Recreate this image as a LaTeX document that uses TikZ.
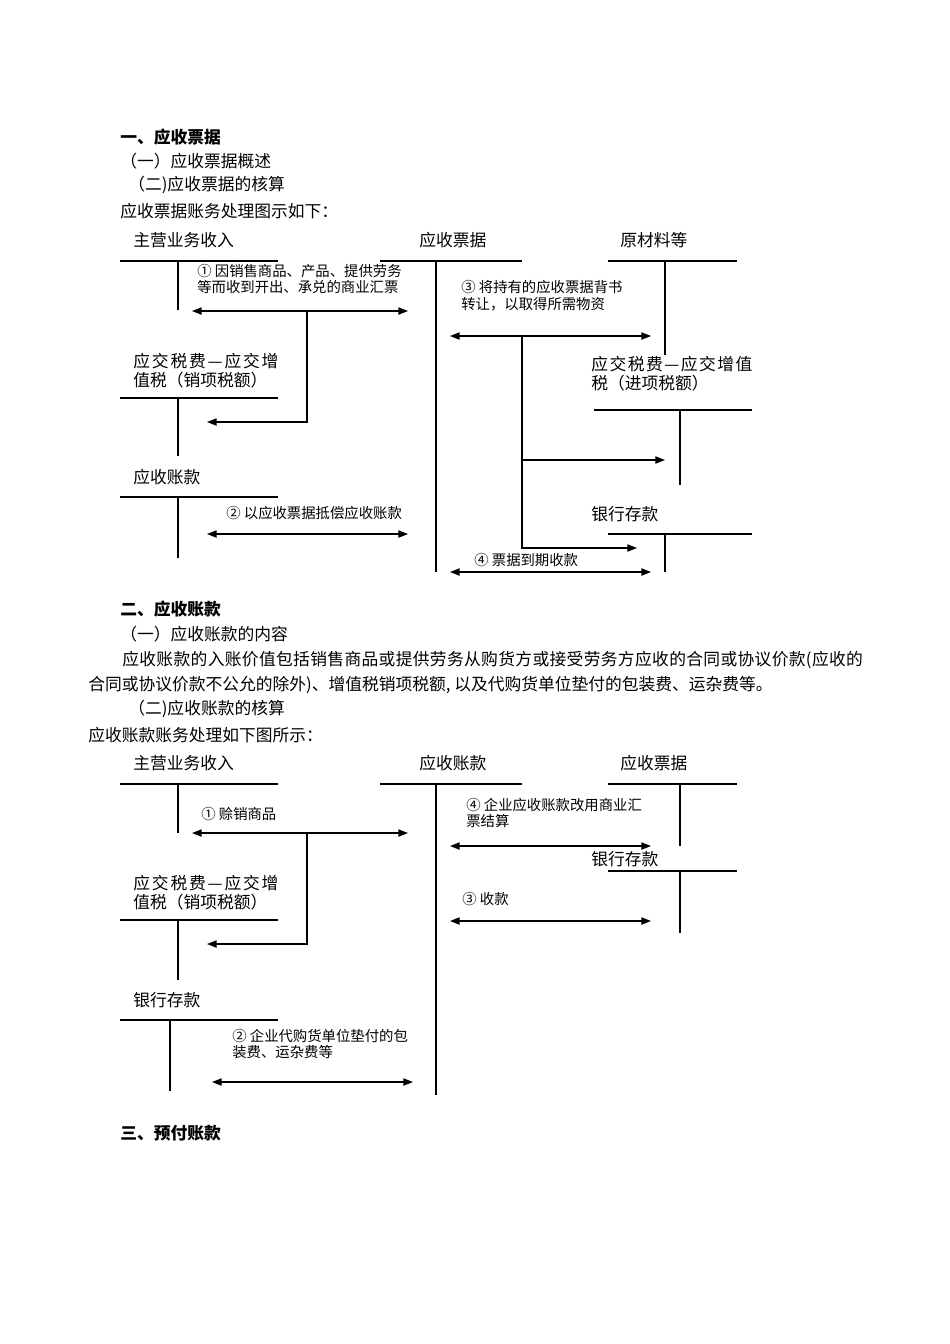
\documentclass[tikz,border=0pt]{standalone}
\usepackage{fontspec}
\setmainfont{Noto Sans CJK SC}
\usetikzlibrary{arrows.meta}
\begin{document}
\begin{tikzpicture}[x=0.6266pt,y=-0.6266pt,
    txt/.style={anchor=west,inner sep=0pt,font=\fontsize{10.5}{12}\selectfont,align=left},
    note/.style={anchor=west,inner sep=0pt,font=\fontsize{9}{10.5}\selectfont,align=left},
    head/.style={anchor=west,inner sep=0pt,font=\fontsize{10.5}{12}\selectfont\bfseries},
    acct/.style={line width=0.8pt},
    flow/.style={line width=0.8pt,{Triangle[length=6pt,width=4.5pt]}-{Triangle[length=6pt,width=4.5pt]}},
    oneway/.style={line width=0.8pt,-{Triangle[length=6pt,width=4.5pt]}}]
    \useasboundingbox (0,0) rectangle (950,1344);
    %% Section one
    \node[head] (h1) at (120,137) {一、应收票据};
    \node[txt] (h1a) at (120,161) {（一）应收票据概述};
    \node[txt] (h1b) at (128,185) {（二)应收票据的核算};
    \node[txt] (h1c) at (120,211) {应收票据账务处理图示如下：};
    %% Accounts
    \node[txt] (zyA) at (133,240) {主营业务收入};
    \draw[acct] (120,261) -- (278,261) (178,261) -- (178,310);
    \node[txt] (pjA) at (419,240) {应收票据};
    \draw[acct] (380,261) -- (522,261) (436,261) -- (436,572);
    \node[txt] (ylA) at (620,240) {原材料等};
    \draw[acct] (608,261) -- (737,261) (665,261) -- (665,355);
    \node[txt] (xxA) at (133,371) {{\addfontfeature{LetterSpace=11}应交税费—应交增}\\值税（销项税额）};
    \draw[acct] (120,398) -- (278,398) (178,398) -- (178,456);
    \node[txt] (zkA) at (133,477) {应收账款};
    \draw[acct] (120,497) -- (278,497) (178,497) -- (178,558);
    \node[txt] (jxA) at (591,374) {{\addfontfeature{LetterSpace=9}应交税费—应交增值}\\税（进项税额）};
    \draw[acct] (594,410) -- (752,410) (680,410) -- (680,485);
    \node[txt] (ckA) at (591,514) {银行存款};
    \draw[acct] (608,534) -- (752,534) (665,534) -- (665,572);
    %% Entries
    \coordinate (d1L) at (192,311);
    \coordinate (d1R) at (408,311);
    \coordinate (d1M) at (307,311);
    \coordinate (d1T) at (207,422);
    \node[note] (n1A) at (197,279) {① 因销售商品、产品、提供劳务\\等而收到开出、承兑的商业汇票};
    \draw[flow] (d1L) -- (d1R);
    \draw[oneway] (d1M) |- (d1T);
    \coordinate (d2L) at (207,534);
    \coordinate (d2R) at (408,534);
    \node[note] (n2A) at (226,513) {② 以应收票据抵偿应收账款};
    \draw[flow] (d2L) -- (d2R);
    \coordinate (d3L) at (450,336);
    \coordinate (d3R) at (651,336);
    \coordinate (d3M) at (522,336);
    \coordinate (d3A) at (665,460);
    \coordinate (d3B) at (637,548);
    \node[note] (n3A) at (461,296) {③ 将持有的应收票据背书\\转让，以取得所需物资};
    \draw[flow] (d3L) -- (d3R);
    \draw[oneway] (d3M) |- (d3B);
    \draw[oneway] (d3M |- d3A) -- (d3A);
    \coordinate (d4L) at (450,572);
    \coordinate (d4R) at (651,572);
    \node[note] (n4A) at (474,560) {④ 票据到期收款};
    \draw[flow] (d4L) -- (d4R);
    %% Section two
    \node[head] (h2) at (120,609) {二、应收账款};
    \node[txt] (h2a) at (120,634) {（一）应收账款的内容};
    \node[txt] (p1) at (122,660) {\addfontfeature{LetterSpace=2}应收账款的入账价值包括销售商品或提供劳务从购货方或接受劳务方应收的合同或协议价款(应收的};
    \node[txt] (p2) at (88,685) {合同或协议价款不公允的除外)、增值税销项税额, 以及代购货单位垫付的包装费、运杂费等。};
    \node[txt] (h2b) at (128,709) {（二)应收账款的核算};
    \node[txt] (h2c) at (88,735) {应收账款账务处理如下图所示：};
    %% Accounts
    \node[txt] (zyB) at (133,763) {主营业务收入};
    \draw[acct] (120,784) -- (278,784) (178,784) -- (178,833);
    \node[txt] (zkB) at (419,763) {应收账款};
    \draw[acct] (380,784) -- (522,784) (436,784) -- (436,1095);
    \node[txt] (pjB) at (620,763) {应收票据};
    \draw[acct] (608,784) -- (737,784) (680,784) -- (680,846);
    \node[txt] (xxB) at (133,893) {{\addfontfeature{LetterSpace=11}应交税费—应交增}\\值税（销项税额）};
    \draw[acct] (120,920) -- (278,920) (178,920) -- (178,980);
    \node[txt] (ckB) at (133,1000) {银行存款};
    \draw[acct] (120,1020) -- (278,1020) (170,1020) -- (170,1091);
    \node[txt] (ckC) at (591,859) {银行存款};
    \draw[acct] (608,871) -- (737,871) (680,871) -- (680,933);
    %% Entries
    \coordinate (e1L) at (192,833);
    \coordinate (e1R) at (408,833);
    \coordinate (e1M) at (307,833);
    \coordinate (e1T) at (207,944);
    \node[note] (n1B) at (201,814) {① 赊销商品};
    \draw[flow] (e1L) -- (e1R);
    \draw[oneway] (e1M) |- (e1T);
    \coordinate (e2L) at (212,1082);
    \coordinate (e2R) at (413,1082);
    \node[note] (n2B) at (232,1044) {② 企业代购货单位垫付的包\\装费、运杂费等};
    \draw[flow] (e2L) -- (e2R);
    \coordinate (e4L) at (450,846);
    \coordinate (e4R) at (651,846);
    \node[note] (n4B) at (466,813) {④ 企业应收账款改用商业汇\\票结算};
    \draw[flow] (e4L) -- (e4R);
    \coordinate (e3L) at (450,921);
    \coordinate (e3R) at (651,921);
    \node[note] (n3B) at (462,899) {③ 收款};
    \draw[flow] (e3L) -- (e3R);
    %% Section three
    \node[head] (h3) at (120,1133) {三、预付账款};
\end{tikzpicture}
\end{document}
